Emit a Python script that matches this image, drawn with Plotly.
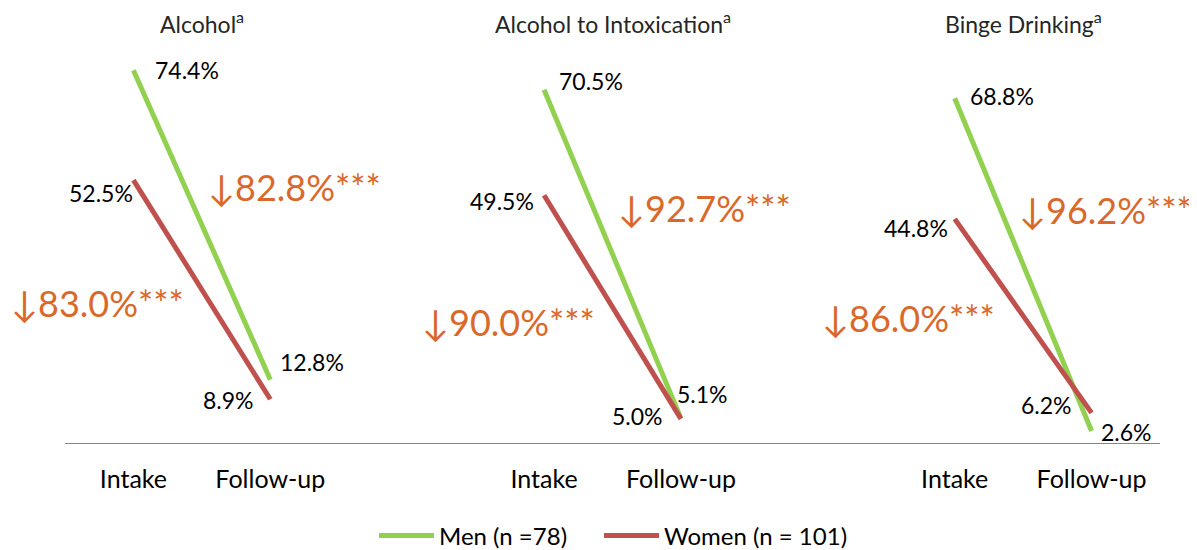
import plotly.graph_objects as go

# ---- data ----
panels = ["Alcohol", "Alcohol to Intoxication", "Binge Drinking"]
time_labels = ["Intake", "Follow-up"]
men_intake = [74.4, 70.5, 68.8]
men_follow = [12.8, 5.1, 2.6]
women_intake = [52.5, 49.5, 44.8]
women_follow = [8.9, 5.0, 6.2]
men_change = ["↓82.8%***", "↓92.7%***", "↓96.2%***"]
women_change = ["↓83.0%***", "↓90.0%***", "↓86.0%***"]
men_name = "Men (n =78)"
women_name = "Women (n = 101)"

GREEN = "#92D050"
RED = "#C0504D"
ORANGE = "#D9692B"
FONT = "Lato, Open Sans, sans-serif"

fig = go.Figure()

# each panel uses two category slots, separated by one blank slot
for i in range(3):
    x0 = i * 3
    fig.add_trace(go.Scatter(
        x=[x0, x0 + 1], y=[men_intake[i], men_follow[i]], mode="lines",
        line=dict(color=GREEN, width=5), name=men_name, legend="legend",
        legendgroup="men", showlegend=(i == 0)))
for i in range(3):
    x0 = i * 3
    fig.add_trace(go.Scatter(
        x=[x0, x0 + 1], y=[women_intake[i], women_follow[i]], mode="lines",
        line=dict(color=RED, width=5), name=women_name, legend="legend2",
        legendgroup="women", showlegend=(i == 0)))

ann = []
lab_font = dict(family=FONT, size=23, color="#000000")
big_font = dict(family=FONT, size=36, color=ORANGE)

# value label offsets (pixels) per panel
men_in_off = [(20, 0), (13, 9), (13, 2)]
women_in_off = [(2, -13), (-8, -6), (-5, -9)]
men_fu_off = [(8, 18), (-6, 24), (7, -1)]
women_fu_off = [(-14, -1), (-16, 3), (-18, 8)]
men_change_pos = [(1.18, 51.1), (4.17, 47.0), (7.10, 46.6)]
women_change_pos = [(-0.26, 28.1), (2.74, 24.3), (5.66, 25.1)]

for i in range(3):
    x0 = i * 3
    ann.append(dict(x=x0, y=men_intake[i], text=f"{men_intake[i]:.1f}%", showarrow=False,
                    xanchor="left", yanchor="middle", xshift=men_in_off[i][0],
                    yshift=men_in_off[i][1], font=lab_font))
    ann.append(dict(x=x0, y=women_intake[i], text=f"{women_intake[i]:.1f}%", showarrow=False,
                    xanchor="right", yanchor="middle", xshift=women_in_off[i][0],
                    yshift=women_in_off[i][1], font=lab_font))
    ann.append(dict(x=x0 + 1, y=men_follow[i], text=f"{men_follow[i]:.1f}%", showarrow=False,
                    xanchor="left", yanchor="middle", xshift=men_fu_off[i][0],
                    yshift=men_fu_off[i][1], font=lab_font))
    ann.append(dict(x=x0 + 1, y=women_follow[i], text=f"{women_follow[i]:.1f}%", showarrow=False,
                    xanchor="right", yanchor="middle", xshift=women_fu_off[i][0],
                    yshift=women_fu_off[i][1], font=lab_font))
    ann.append(dict(x=men_change_pos[i][0], y=men_change_pos[i][1], text=men_change[i],
                    showarrow=False, xanchor="center", yanchor="middle", font=big_font))
    ann.append(dict(x=women_change_pos[i][0], y=women_change_pos[i][1], text=women_change[i],
                    showarrow=False, xanchor="center", yanchor="middle", font=big_font))
    ann.append(dict(x=x0 + 0.5, y=1, yref="paper", text=f"{panels[i]}<sup>a</sup>",
                    showarrow=False, xanchor="center", yanchor="bottom", yshift=2,
                    font=dict(family=FONT, size=23, color="#262626")))

tickvals = []
ticktext = []
for i in range(3):
    tickvals += [i * 3, i * 3 + 1]
    ticktext += time_labels

leg_common = dict(orientation="h", xanchor="left", xref="container",
                  y=0.026, yanchor="middle", yref="container",
                  font=dict(family=FONT, size=24, color="#000000"),
                  itemwidth=55, bgcolor="rgba(0,0,0,0)")

# page body has an 8px default margin, so the figure is sized to fit inside
fig.update_layout(
    width=1189, height=542,
    margin=dict(l=57, r=37, t=34, b=106, autoexpand=False),
    paper_bgcolor="white", plot_bgcolor="white",
    annotations=ann,
    showlegend=True,
    legend=dict(x=366 / 1189, **leg_common),
    legend2=dict(x=591 / 1189, **leg_common),
    xaxis=dict(range=[-0.5, 7.5], tickmode="array", tickvals=tickvals, ticktext=ticktext,
               showgrid=False, zeroline=False, showline=False, ticks="", automargin=False,
               tickfont=dict(family=FONT, size=25, color="#000000"), ticklabelstandoff=18),
    yaxis=dict(range=[0, 80], visible=False, showgrid=False, zeroline=False, automargin=False),
    shapes=[dict(type="line", xref="x", yref="y", x0=-0.5, x1=7.5, y0=0, y1=0,
                 line=dict(color="#868686", width=2))],
)

fig.write_html("out.html")
